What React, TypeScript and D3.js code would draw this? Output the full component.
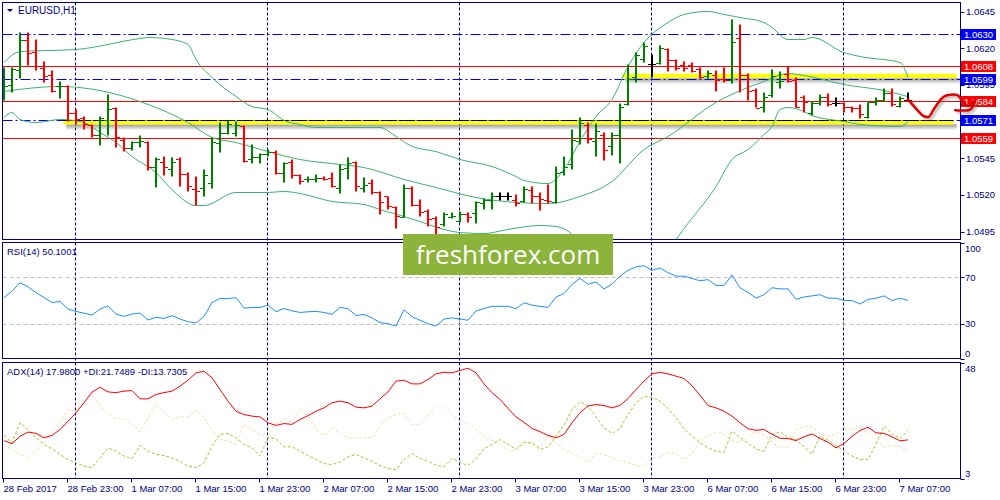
import * as d3 from "d3";

// бары EURUSD H1, с 28 Feb 15:00 по 7 Mar 08:00
const barOpen = [
  1.05884, 1.05952, 1.06048, 1.06259, 1.06177, 1.06068, 1.06014, 1.05939, 1.05939, 1.05761,
  1.05727, 1.05673, 1.05611, 1.05707, 1.05789, 1.05577, 1.05516, 1.05557, 1.05557, 1.05393,
  1.05427, 1.05373, 1.05441, 1.05345, 1.05243, 1.0525, 1.05284, 1.0555, 1.05625, 1.05625,
  1.05666, 1.05441, 1.05455, 1.05475, 1.05495, 1.05352, 1.05427, 1.05332, 1.05305, 1.05305,
  1.05318, 1.05318, 1.0525, 1.05386, 1.05427, 1.0525, 1.05284, 1.05216, 1.05189, 1.0512,
  1.05052, 1.0525, 1.05134, 1.05093, 1.05039, 1.04998, 1.05052, 1.05025, 1.05066, 1.05073,
  1.05141, 1.05168, 1.05189, 1.05189, 1.05168, 1.05155, 1.05236, 1.05189, 1.05168, 1.05148,
  1.05359, 1.05407, 1.05564, 1.05673, 1.05564, 1.05611, 1.0553, 1.05605, 1.05816, 1.06,
  1.06123, 1.06095, 1.06102, 1.06191, 1.06116, 1.06082, 1.06082, 1.06055, 1.06007, 1.0602,
  1.05993, 1.0598, 1.06266, 1.0602, 1.05918, 1.05802, 1.05884, 1.05966, 1.06027, 1.05986,
  1.0587, 1.05761, 1.05823, 1.0587, 1.05823, 1.05823, 1.05802, 1.05789, 1.05734, 1.0583,
  1.0585, 1.05891, 1.05809, 1.0585
];
const barHigh = [
  1.06068, 1.06068, 1.06307, 1.06307, 1.06259, 1.06109, 1.06048, 1.05973, 1.05945, 1.05782,
  1.05734, 1.0568, 1.05734, 1.05884, 1.05795, 1.05591, 1.05564, 1.05605, 1.05564, 1.05455,
  1.05461, 1.05455, 1.05455, 1.05352, 1.05325, 1.05373, 1.05591, 1.05693, 1.05707, 1.057,
  1.05673, 1.05543, 1.05482, 1.05509, 1.05502, 1.0542, 1.05441, 1.05339, 1.05325, 1.05339,
  1.05325, 1.05352, 1.05407, 1.05455, 1.05427, 1.05318, 1.05305, 1.05223, 1.05189, 1.0512,
  1.0527, 1.05257, 1.05168, 1.051, 1.05052, 1.0508, 1.0508, 1.05086, 1.0508, 1.05155,
  1.05175, 1.05216, 1.05216, 1.05216, 1.05202, 1.05257, 1.05257, 1.05216, 1.0527, 1.05393,
  1.05461, 1.05645, 1.05727, 1.05693, 1.05686, 1.05625, 1.05625, 1.05823, 1.06089, 1.0617,
  1.06239, 1.06157, 1.06218, 1.06198, 1.06123, 1.06109, 1.06102, 1.06068, 1.06048, 1.06048,
  1.06068, 1.06395, 1.06361, 1.06027, 1.05925, 1.05898, 1.06055, 1.06041, 1.06075, 1.06,
  1.05877, 1.05836, 1.05884, 1.05891, 1.05864, 1.0583, 1.05802, 1.05816, 1.0583, 1.05864,
  1.05925, 1.05925, 1.0587, 1.05898
];
const barLow = [
  1.05843, 1.05898, 1.05993, 1.06082, 1.06048, 1.05966, 1.05898, 1.05857, 1.057, 1.0568,
  1.05645, 1.05591, 1.05536, 1.05605, 1.05523, 1.05495, 1.05502, 1.05523, 1.05366, 1.0525,
  1.05332, 1.05325, 1.05257, 1.05223, 1.05127, 1.05189, 1.05243, 1.05489, 1.05611, 1.05598,
  1.0542, 1.05414, 1.05414, 1.05461, 1.05339, 1.05284, 1.05311, 1.0527, 1.05284, 1.05284,
  1.05298, 1.0525, 1.05209, 1.05305, 1.05223, 1.05216, 1.05202, 1.05066, 1.051, 1.0497,
  1.05045, 1.0512, 1.05052, 1.04984, 1.0493, 1.04984, 1.05039, 1.05011, 1.05011, 1.05005,
  1.051, 1.051, 1.05161, 1.05161, 1.0512, 1.05148, 1.05141, 1.05093, 1.05141, 1.05141,
  1.05332, 1.05373, 1.05543, 1.0555, 1.05461, 1.05434, 1.05468, 1.05414, 1.05809, 1.05966,
  1.06102, 1.06, 1.06089, 1.06041, 1.06048, 1.06041, 1.06034, 1.05993, 1.05993, 1.05905,
  1.05966, 1.05959, 1.05898, 1.05843, 1.05795, 1.05761, 1.05864, 1.05925, 1.05966, 1.05795,
  1.05761, 1.05741, 1.05809, 1.05802, 1.05802, 1.05761, 1.05761, 1.0572, 1.0572, 1.05809,
  1.05836, 1.05802, 1.05795, 1.0585
];
const barClose = [
  1.05945, 1.06055, 1.06259, 1.06164, 1.06075, 1.06007, 1.05905, 1.05945, 1.05761, 1.0572,
  1.0568, 1.05605, 1.05727, 1.05782, 1.05591, 1.05516, 1.05557, 1.05564, 1.05393, 1.05441,
  1.05393, 1.05427, 1.05339, 1.05257, 1.05223, 1.05332, 1.05557, 1.05625, 1.0568, 1.05673,
  1.05434, 1.05455, 1.05475, 1.05495, 1.05352, 1.05414, 1.05332, 1.05291, 1.05311, 1.05318,
  1.05305, 1.05257, 1.05373, 1.05414, 1.05257, 1.0527, 1.05216, 1.05148, 1.05127, 1.05059,
  1.0525, 1.05134, 1.05086, 1.05032, 1.04984, 1.05066, 1.05059, 1.05066, 1.05052, 1.05148,
  1.05168, 1.05189, 1.05189, 1.05189, 1.05141, 1.05243, 1.05195, 1.05175, 1.05155, 1.05352,
  1.05393, 1.05577, 1.05693, 1.05584, 1.05632, 1.05509, 1.05605, 1.05802, 1.05993, 1.0615,
  1.06218, 1.06095, 1.06198, 1.06116, 1.06068, 1.06068, 1.06041, 1.06, 1.06034, 1.05986,
  1.05986, 1.06245, 1.06014, 1.05911, 1.05795, 1.0587, 1.06007, 1.05973, 1.05973, 1.05802,
  1.05836, 1.05823, 1.05864, 1.05816, 1.05823, 1.05802, 1.05789, 1.05748, 1.0583, 1.0585,
  1.05891, 1.05816, 1.05857, 1.0585
];

// Bollinger Bands (20): [номер бара, цена]
const bbUpper: [number, number][] = [
  [0, 1.06102], [2, 1.06177], [9, 1.06191], [17, 1.06266], [18, 1.06273], [21, 1.06259],
  [23, 1.06225], [24, 1.06123], [26, 1.06], [29, 1.0587], [31, 1.05802], [33, 1.05782],
  [35, 1.05707], [37, 1.0568], [39, 1.05659], [47, 1.05659], [49, 1.05598], [51, 1.0553],
  [54, 1.05495], [57, 1.05441], [61, 1.05393], [64, 1.05325], [65, 1.05298], [68, 1.05277],
  [70, 1.05373], [72, 1.05564], [74, 1.05734], [76, 1.0585], [78, 1.06075], [80, 1.06239],
  [83, 1.06375], [85, 1.0643], [88, 1.0645], [90, 1.0643], [92, 1.06409], [95, 1.06375],
  [96, 1.06341], [98, 1.06259], [100, 1.06259], [101, 1.06273], [105, 1.0617], [107, 1.06143],
  [112, 1.06102], [113, 1.06]
];
const bbMiddle: [number, number][] = [
  [0, 1.05905], [7, 1.05939], [12, 1.05911], [17, 1.05836], [23, 1.05693], [26, 1.05591],
  [29, 1.05557], [33, 1.05495], [37, 1.05441], [42, 1.05407], [45, 1.05386], [50, 1.05305],
  [54, 1.0525], [59, 1.05182], [64, 1.05148], [68, 1.05141], [72, 1.05189], [76, 1.05291],
  [80, 1.05509], [83, 1.05598], [89, 1.0583], [93, 1.05932], [95, 1.05973], [98, 1.06027],
  [100, 1.06014], [105, 1.05952], [110, 1.05911], [113, 1.0587]
];
const bbLower: [number, number][] = [
  [0, 1.05727], [1, 1.05761], [2, 1.05714], [4, 1.05693], [7, 1.05714], [10, 1.05693],
  [12, 1.05625], [14, 1.05557], [16, 1.05461], [19, 1.05352], [21, 1.05236], [24, 1.05127],
  [25, 1.05127], [29, 1.05216], [33, 1.05216], [35, 1.05223], [37, 1.05209], [41, 1.05155],
  [45, 1.05134], [47, 1.051], [50, 1.05052], [52, 1.05018], [55, 1.04964], [57, 1.04943],
  [60, 1.04936], [63, 1.04964], [67, 1.04991], [69, 1.04984], [71, 1.0493], [72, 1.04814],
  [75, 1.04739], [79, 1.04746], [83, 1.04821], [84, 1.04895], [85, 1.0497], [89, 1.05257],
  [91, 1.05441], [93, 1.05509], [95, 1.05611], [96, 1.05666], [97, 1.05782], [98, 1.05795],
  [100, 1.05768], [101, 1.05741], [105, 1.057], [107, 1.0568], [112, 1.05666], [113, 1.057]
];

const rsiValues = [
  52.5, 58.1, 65.3, 61.9, 56.8, 52.5, 48.3, 49.1, 42.6, 40.6,
  39.1, 37.4, 42.6, 45.4, 38.3, 36.3, 38.3, 39.1, 33.2, 35.5,
  34.6, 36.9, 34.0, 31.7, 30.6, 36.3, 48.3, 51.7, 51.7, 52.5,
  43.4, 44.0, 44.0, 46.0, 40.3, 43.1, 41.1, 39.7, 40.3, 40.6,
  39.7, 38.0, 44, 43, 37, 38, 35, 31, 30, 28,
  42, 36, 33, 30, 28, 34, 35, 34, 33, 41,
  43, 45, 45, 45, 43, 48, 46, 45, 44, 53,
  56, 64, 69, 64, 66, 60, 64, 71, 76, 79,
  80, 76, 78, 74, 71, 71, 69, 67, 68, 63,
  63, 72, 61, 57, 52, 55, 61, 60, 60, 51,
  53, 54, 55, 52, 52, 50, 50, 47, 51, 52,
  54, 50, 52, 50.1001
];

const adxValues = [
  17.7, 16.5, 19.4, 21.0, 20.5, 18.8, 19.7, 22.0, 25.2, 28.5,
  32.4, 36.5, 38.4, 36.6, 36.3, 36.9, 37.1, 33.9, 33.9, 35.6,
  36.3, 36.9, 38.8, 41.1, 44.0, 44.6, 42.1, 37.5, 33.0, 29.1,
  27.8, 27.2, 26.9, 24.6, 23.6, 24.3, 24.0, 25.9, 27.4, 29.1,
  30.4, 32.4, 33.0, 32.4, 30.7, 30.4, 31.1, 33.9, 36.6, 40.8,
  41.1, 39.7, 39.7, 41.4, 43.6, 44.2, 44.0, 44.9, 45.8, 44.0,
  39.7, 36.3, 33.7, 30.2, 26.9, 24.8, 22.4, 21.2, 19.7, 18.8,
  20.1, 24.6, 28.5, 31.1, 31.7, 31.3, 30.4, 31.4, 34.0, 37.5,
  40.8, 43.6, 44.2, 43.6, 42.7, 41.8, 39.0, 35.3, 31.3, 30.4,
  29.1, 27.2, 24.6, 22.3, 21.7, 22.0, 20.2, 18.6, 18.5, 17.7,
  19.2, 20.3, 18.5, 17.1, 14.9, 16.6, 19.3, 21.6, 22.9, 20.7,
  20.5, 19.2, 17.6, 17.98
];
const plusDi = [
  19.7, 16.9, 24.6, 22.0, 18.8, 16.2, 14.5, 12.3, 10.4, 9.1,
  7.8, 7.2, 11.0, 14.9, 13.6, 11.7, 10.6, 15.8, 13.6, 12.3,
  11.9, 11.0, 9.7, 7.8, 7.2, 9.1, 15.5, 20.1, 20.5, 18.8,
  16.2, 14.9, 11.7, 18.8, 18.4, 15.3, 15.3, 13.6, 11.9, 10.4,
  8.8, 8.4, 9.3, 11.4, 12.3, 11.0, 9.7, 8.0, 6.9, 6.4,
  10.4, 12.7, 10.8, 9.7, 8.2, 7.5, 10.8, 9.3, 8.0, 10.6,
  14.5, 16.2, 18.1, 16.2, 14.3, 16.9, 16.9, 14.3, 15.3, 19.4,
  23.6, 29.8, 32.8, 31.1, 26.9, 22.7, 20.5, 22.4, 27.8, 32.4,
  34.9, 34.5, 33.0, 30.2, 26.6, 22.3, 19.4, 16.9, 14.9, 13.6,
  13.0, 21.4, 19.0, 16.6, 14.5, 13.6, 20.1, 21.1, 19.0, 18.1,
  15.3, 12.4, 19.4, 17.9, 15.8, 13.6, 11.8, 10.3, 10.4, 16.2,
  23.3, 20.3, 18.5, 21.7489
];
const minusDi = [
  16.2, 14.3, 12.7, 10.6, 13.6, 16.9, 21.4, 25.2, 29.8, 29.1,
  32.4, 35.6, 31.1, 27.8, 26.2, 26.2, 24.0, 21.0, 26.6, 31.7,
  29.1, 25.9, 26.9, 26.9, 29.5, 26.6, 21.4, 18.1, 17.5, 16.2,
  24.0, 22.0, 20.1, 19.7, 24.0, 26.2, 25.2, 30.0, 27.2, 22.0,
  19.7, 22.7, 20.7, 18.5, 18.8, 18.9, 18.8, 23.3, 26.6, 27.8,
  28.5, 24.0, 24.0, 27.2, 31.1, 31.1, 27.8, 25.2, 24.6, 22.0,
  19.4, 17.9, 16.6, 13.6, 14.3, 17.9, 16.2, 15.3, 19.4, 16.9,
  14.3, 13.0, 11.0, 9.3, 12.7, 12.3, 11.0, 10.0, 9.1, 8.3,
  7.2, 11.0, 11.3, 13.0, 12.4, 10.4, 12.7, 17.7, 19.7, 21.0,
  20.1, 17.5, 17.1, 19.2, 21.1, 19.7, 17.1, 15.0, 14.8, 22.0,
  23.3, 23.1, 20.3, 19.4, 20.3, 22.3, 22.0, 22.5, 20.7, 17.6,
  15.5, 15.7, 15.3, 13.7305
];

const priceTicks = [1.0645, 1.062, 1.0595, 1.057, 1.0545, 1.052, 1.0495];
const rsiTicks = [100, 70, 30, 0];
const rsiLevels = [70, 30];
const adxTicks = [48, 3];
const timeLabels = [
  "28 Feb 2017", "28 Feb 23:00", "1 Mar 07:00", "1 Mar 15:00", "1 Mar 23:00",
  "2 Mar 07:00", "2 Mar 15:00", "2 Mar 23:00", "3 Mar 07:00", "3 Mar 15:00",
  "3 Mar 23:00", "6 Mar 07:00", "6 Mar 15:00", "6 Mar 23:00", "7 Mar 07:00"
];
const daySeparators = [9, 33, 57, 81, 105];

// уровни аналитика
const blueLevels = [1.063, 1.0599, 1.0571];
const redLevels = [1.0608, 1.0584, 1.0559];
// жёлтые зоны: [бар от, бар до, цена низ, цена верх]
const zones: [number, number, number, number][] = [
  [77.3, 119.1, 1.05995, 1.06025],
  [7.4, 118.7, 1.0568, 1.0571]
];
// нарисованный от руки прогноз
const forecastPath: [number, number][] = [
  [113, 1.0585], [113.7, 1.05807], [114.9, 1.05739], [115.6, 1.05732], [116.2, 1.05782],
  [117.3, 1.05862], [117.9, 1.05879], [119.2, 1.05879], [119.8, 1.05838], [120.5, 1.05807],
  [121.4, 1.0585]
];
const forecastHook: [number, number][] = [
  [118.9, 1.05777], [119.97, 1.05775], [120.8, 1.05782], [121.4, 1.05845]
];

const NAVY = "#000080";
const FONT = "'Liberation Sans', Arial, sans-serif";

const App = () => {
  const left = 2.5;
  const right = 960.5;
  const main = { top: 2.5, bottom: 239.5 };
  const rsiPanel = { top: 242.5, bottom: 358.5 };
  const adxPanel = { top: 362.5, bottom: 478.5 };

  const x = d3.scaleLinear().domain([0, 113]).range([4, 908]);
  const yP = d3.scaleLinear().domain([1.0645, 1.0495]).range([11.5, 231.5]);
  const yR = d3.scaleLinear().domain([0, 100]).range([rsiPanel.bottom, rsiPanel.top]);
  const yA = d3.scaleLinear().domain([3, 48]).range([adxPanel.bottom, adxPanel.top]);
  const fmt = d3.format(".4f");
  const crisp = (v: number) => Math.round(v) + 0.5;

  const bandLine = d3
    .line<[number, number]>()
    .x(d => x(d[0]))
    .y(d => yP(d[1]))
    .curve(d3.curveMonotoneX);
  const rsiLine = d3.line<number>().x((d, i) => x(i)).y(d => yR(d));
  const adxLine = d3.line<number>().x((d, i) => x(i)).y(d => yA(d));
  const drawLine = d3
    .line<[number, number]>()
    .x(d => x(d[0]))
    .y(d => yP(d[1]))
    .curve(d3.curveCatmullRom);

  const barColor = (i: number) =>
    barClose[i] > barOpen[i] ? "#008000" : barClose[i] < barOpen[i] ? "#ff0000" : "#000000";

  const labelBox = (p: number, color: string, key: string) => {
    const ly = crisp(yP(p));
    return (
      <g key={key}>
        <rect x={961} y={ly - 5.5} width={35} height={11} fill={color} />
        <text x={964} y={ly + 3.5} fill="#fff" fontSize={9.5}>{fmt(p)}</text>
      </g>
    );
  };

  return (
    <svg
      width={1000}
      height={500}
      style={{ position: "absolute", left: 0, top: 0, background: "#fff" }}
      fontFamily={FONT}
    >
      <defs>
        <clipPath id="mainClip">
          <rect x={left} y={main.top} width={right - left} height={main.bottom - main.top} />
        </clipPath>
        <linearGradient id="shadow" x1="0" y1="0" x2="0" y2="1">
          <stop offset="0" stopColor="#000" stopOpacity={0.4} />
          <stop offset="1" stopColor="#000" stopOpacity={0} />
        </linearGradient>
        <filter id="blur" x="-10%" y="-10%" width="120%" height="120%">
          <feGaussianBlur stdDeviation={1.2} />
        </filter>
      </defs>

      {/* разделители дней */}
      {daySeparators.map(d => (
        <line
          key={"sep" + d}
          x1={crisp(x(d)) - 1}
          x2={crisp(x(d)) - 1}
          y1={main.top}
          y2={adxPanel.bottom}
          stroke={NAVY}
          strokeDasharray="3,2"
        />
      ))}

      <g clipPath="url(#mainClip)">
        {/* жёлтые зоны с тенью */}
        {zones.map((z, k) => (
          <g key={"zone" + k}>
            <rect
              x={x(z[0]) + 3}
              y={yP(z[2])}
              width={x(z[1]) - x(z[0])}
              height={6}
              fill="url(#shadow)"
            />
            <rect
              x={x(z[0])}
              y={yP(z[3])}
              width={x(z[1]) - x(z[0])}
              height={yP(z[2]) - yP(z[3])}
              fill="#ffff00"
            />
          </g>
        ))}

        {redLevels.map(p => (
          <line key={"r" + p} x1={left} x2={right} y1={crisp(yP(p))} y2={crisp(yP(p))} stroke="#ff0000" />
        ))}
        {blueLevels.map(p => (
          <line
            key={"b" + p}
            x1={left}
            x2={right}
            y1={crisp(yP(p))}
            y2={crisp(yP(p))}
            stroke="#0000ff"
            strokeDasharray="10,3,2,3"
          />
        ))}
        <line
          x1={x(zones[1][0])}
          x2={x(zones[1][1])}
          y1={crisp(yP(zones[1][3]))}
          y2={crisp(yP(zones[1][3]))}
          stroke="#000"
          strokeDasharray="10,3,2,3"
        />

        {/* полосы Боллинджера */}
        {[bbUpper, bbMiddle, bbLower].map((b, k) => (
          <path key={"bb" + k} d={bandLine(b) || ""} fill="none" stroke="#3cb371" strokeWidth={1} />
        ))}

        {/* бары */}
        {barOpen.map((o, i) => {
          const bx = x(i);
          const c = barColor(i);
          return (
            <g key={"bar" + i} stroke={c}>
              <line x1={bx} x2={bx} y1={yP(barHigh[i])} y2={yP(barLow[i])} strokeWidth={2} />
              <line x1={bx - 4} x2={bx} y1={crisp(yP(o))} y2={crisp(yP(o))} />
              <line x1={bx} x2={bx + 4} y1={crisp(yP(barClose[i]))} y2={crisp(yP(barClose[i]))} />
            </g>
          );
        })}
      </g>

      {/* RSI */}
      {rsiLevels.map(v => (
        <line
          key={"rl" + v}
          x1={left}
          x2={right}
          y1={crisp(yR(v))}
          y2={crisp(yR(v))}
          stroke="#c0c0c0"
          strokeDasharray="4,3"
        />
      ))}
      <path d={rsiLine(rsiValues) || ""} fill="none" stroke="#1e90ff" strokeWidth={1} />

      {/* ADX */}
      <path d={adxLine(minusDi) || ""} fill="none" stroke="#f5deb3" strokeDasharray="3,2" />
      <path d={adxLine(plusDi) || ""} fill="none" stroke="#9acd32" strokeDasharray="3,2" />
      <path d={adxLine(adxValues) || ""} fill="none" stroke="#ff0000" strokeWidth={1} />

      {/* рамки панелей */}
      {[main, rsiPanel, adxPanel].map((p, k) => (
        <rect
          key={"frame" + k}
          x={left}
          y={p.top}
          width={right - left}
          height={p.bottom - p.top}
          fill="none"
          stroke={NAVY}
        />
      ))}

      {/* шкала цены */}
      {priceTicks.map(p => (
        <g key={"pt" + p}>
          <line x1={right} x2={right + 4} y1={crisp(yP(p))} y2={crisp(yP(p))} stroke={NAVY} />
          <text x={966} y={yP(p) + 3.5} fontSize={9.5} fill={NAVY}>{fmt(p)}</text>
        </g>
      ))}
      {blueLevels.map(p => labelBox(p, "#0000ff", "lb" + p))}
      {redLevels.map(p => labelBox(p, "#ff0000", "lr" + p))}

      {rsiTicks.map(v => (
        <g key={"rt" + v}>
          <line x1={right} x2={right + 4} y1={crisp(yR(v))} y2={crisp(yR(v))} stroke={NAVY} />
          <text
            x={965}
            y={v === 100 ? yR(v) + 9 : v === 0 ? yR(v) - 2 : yR(v) + 3.5}
            fontSize={9.5}
            fill={NAVY}
          >
            {v}
          </text>
        </g>
      ))}
      {adxTicks.map(v => (
        <g key={"at" + v}>
          <line x1={right} x2={right + 4} y1={crisp(yA(v))} y2={crisp(yA(v))} stroke={NAVY} />
          <text x={965} y={v === 48 ? yA(v) + 9 : yA(v) - 2} fontSize={9.5} fill={NAVY}>
            {v}
          </text>
        </g>
      ))}

      {/* шкала времени */}
      {timeLabels.map((t, k) => {
        const tx = crisp(x(k * 8)) - 1;
        return (
          <g key={"tl" + k}>
            <line x1={tx} x2={tx} y1={adxPanel.bottom} y2={adxPanel.bottom + 4} stroke={NAVY} />
            <text x={tx} y={492} fontSize={9.5} fill={NAVY}>{t}</text>
          </g>
        );
      })}

      {/* подписи */}
      <path d="M7,9 L13,9 L10,12 Z" fill={NAVY} />
      <text x={18} y={14} fontSize={10} fill={NAVY}>EURUSD,H1</text>
      <text x={7} y={255} fontSize={9.5} fill={NAVY}>
        {"RSI(14) " + fmt(rsiValues[rsiValues.length - 1])}
      </text>
      <text x={7} y={375} fontSize={9.5} fill={NAVY}>
        {"ADX(14) " + fmt(adxValues[adxValues.length - 1]) +
          " +DI:" + fmt(plusDi[plusDi.length - 1]) +
          " -DI:" + fmt(minusDi[minusDi.length - 1])}
      </text>

      {/* прогноз */}
      <g transform="translate(2,2)" filter="url(#blur)" opacity={0.5}>
        <path d={drawLine(forecastPath) || ""} fill="none" stroke="#666" strokeWidth={2.5} />
        <path d={drawLine(forecastHook) || ""} fill="none" stroke="#666" strokeWidth={2.5} />
      </g>
      <path
        d={drawLine(forecastPath) || ""}
        fill="none"
        stroke="#e00000"
        strokeWidth={2.5}
        strokeLinejoin="round"
        strokeLinecap="round"
      />
      <path
        d={drawLine(forecastHook) || ""}
        fill="none"
        stroke="#e00000"
        strokeWidth={2.5}
        strokeLinejoin="round"
        strokeLinecap="round"
      />

      {/* водяной знак */}
      <rect x={403} y={234} width={210} height={41} fill="#8cb33a" />
      <text
        x={508}
        y={264}
        textAnchor="middle"
        fontSize={26}
        fill="#fff"
        fontFamily="'Open Sans', sans-serif"
      >
        freshforex.com
      </text>
    </svg>
  );
};

export default App;
